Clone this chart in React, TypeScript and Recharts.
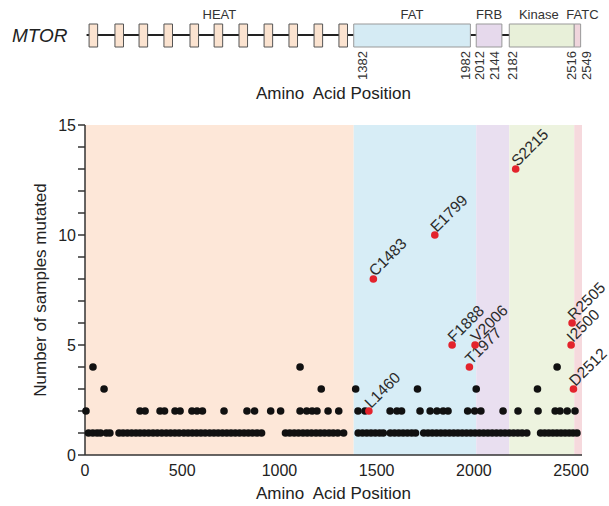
import { ScatterChart, Scatter, XAxis, YAxis, ReferenceArea, ReferenceLine } from "recharts";

// protein layout (amino acid positions)
const domainNames = ["HEAT", "FAT", "FRB", "Kinase", "FATC"];
const domainStarts = [0, 1382, 2012, 2182, 2516];
const domainEnds = [1382, 1982, 2144, 2516, 2549];
const heatRepeatStarts = [21, 154, 278, 406, 540, 664, 792, 921, 1049, 1178, 1306];
const heatRepeatLength = 44;
const boundaryLabels = [1382, 1982, 2012, 2144, 2182, 2516, 2549];

const xTicks = [0, 500, 1000, 1500, 2000, 2500];
const yTicks = [0, 1, 2, 3, 4, 5, 6, 7, 8, 9, 10, 11, 12, 13, 14, 15];

// positions mutated in 1, 2, 3 and 4 samples
const mutatedOnce = [
  18, 40, 62, 80, 110, 128, 175, 196, 218, 240, 262, 283, 305, 327, 350, 372, 395, 418, 440, 462,
  484, 508, 530, 552, 574, 596, 618, 641, 663, 685, 707, 729, 751, 773, 795, 818, 840, 862, 885, 908,
  1031, 1053, 1076, 1098, 1121, 1143, 1165, 1188, 1210, 1232, 1255, 1277, 1300, 1330,
  1405, 1427, 1449, 1471, 1493, 1515, 1534, 1570, 1592, 1614, 1636, 1658, 1680, 1700, 1742, 1764,
  1786, 1808, 1830, 1852, 1874, 1896, 1918, 1940, 1962, 1984, 2006, 2028, 2050, 2072, 2094, 2116,
  2138, 2160, 2182, 2204, 2226, 2248, 2272,
  2343, 2364, 2385, 2406, 2427, 2448, 2469, 2490, 2510, 2530,
];
const mutatedTwice = [
  5, 283, 309, 386, 409, 463, 489, 550, 576, 604, 715, 833, 872, 955, 1006, 1106, 1140, 1168, 1193,
  1250, 1305, 1404, 1440, 1569, 1604, 1628, 1723, 1775, 1810, 1842, 1867, 1968, 2004, 2036, 2150,
  2227, 2330, 2418, 2443, 2480, 2520,
];
const mutatedThrice = [98, 1215, 1392, 1710, 2012, 2327];
const mutatedFourTimes = [41, 1106, 2428];

// labelled hotspots
const hotspotNames = ["L1460", "C1483", "E1799", "F1888", "T1977", "V2006", "S2215", "I2500", "R2505", "D2512"];
const hotspotPositions = [1460, 1483, 1799, 1888, 1977, 2006, 2215, 2500, 2505, 2512];
const hotspotCounts = [2, 8, 10, 5, 4, 5, 13, 5, 6, 3];

const FONT = '"Liberation Sans", Arial, Helvetica, sans-serif';
const X_MAX = 2556;
const BACKBONE_Y = 15;
const bandFill: Record<string, string> = {
  HEAT: "#fde7d8",
  FAT: "#d7edf6",
  FRB: "#e9dff0",
  Kinase: "#edf3df",
  FATC: "#f6d9dd",
};
const boxFill: Record<string, string> = {
  HEAT: "#fbe3d0",
  FAT: "#d5ebf4",
  FRB: "#e6d9ec",
  Kinase: "#e8f0d9",
  FATC: "#efd5dc",
};
const nameShift: Record<string, number> = { Kinase: -3, FATC: 5 };
const boundaryShift: Record<number, number> = { 1382: 13, 1982: 0, 2012: 8, 2144: -3, 2182: 8, 2516: 2, 2549: 10 };

const blackPoints = [
  ...mutatedOnce.map((x) => ({ x, y: 1 })),
  ...mutatedTwice.map((x) => ({ x, y: 2 })),
  ...mutatedThrice.map((x) => ({ x, y: 3 })),
  ...mutatedFourTimes.map((x) => ({ x, y: 4 })),
];
const redPoints = hotspotNames.map((name, i) => ({ name, x: hotspotPositions[i], y: hotspotCounts[i] }));
// anchor points on the backbone so the header chart has data for its axes
const backbonePoints = boundaryLabels.map((x) => ({ x, y: BACKBONE_Y }));

const BoundaryTick = (props: any) => {
  const { x, payload } = props;
  const bx = x + (boundaryShift[payload.value] ?? 0);
  const by = 51;
  return (
    <text x={bx} y={by} transform={`rotate(-90 ${bx} ${by})`} textAnchor="end" fontSize={13} fill="#333">
      {payload.value}
    </text>
  );
};

const Empty = () => <g />;

const Dot = (props: any) => <circle cx={props.cx} cy={props.cy} r={3.8} fill="#111" />;

const Hotspot = (props: any) => {
  const { cx, cy, payload } = props;
  const tx = cx + 2;
  const ty = cy - 2;
  return (
    <g>
      <circle cx={cx} cy={cy} r={3.8} fill="#e3232c" />
      <text x={tx} y={ty} transform={`rotate(-45 ${tx} ${ty})`} fontSize={15.5} fill="#2b2b2b">
        {payload.name}
      </text>
    </g>
  );
};

const YTitle = (props: any) => {
  const vb = props.viewBox;
  const x = 46;
  const y = vb.y + vb.height / 2;
  return (
    <text x={x} y={y} transform={`rotate(-90 ${x} ${y})`} textAnchor="middle" fontSize={17} fill="#222">
      Number of samples mutated
    </text>
  );
};

export default function App() {
  return (
    <div style={{ position: "absolute", left: 0, top: 0, width: 609, height: 506, fontFamily: FONT, background: "#fff" }}>
      <div style={{ position: "absolute", left: 12, top: 25, fontSize: 19, fontStyle: "italic", color: "#222" }}>MTOR</div>
      <ScatterChart width={609} height={110} margin={{ top: 0, right: 27, bottom: 0, left: 85 }}>
        <XAxis
          type="number"
          dataKey="x"
          domain={[0, X_MAX]}
          ticks={boundaryLabels}
          interval={0}
          height={60}
          axisLine={false}
          tickLine={false}
          tick={<BoundaryTick />}
          label={{ value: "Amino\u00a0 Acid Position", position: "insideBottom", offset: 11, fontSize: 17, fill: "#222" }}
        />
        <YAxis type="number" dataKey="y" domain={[0, 50]} hide />
        <ReferenceLine
          segment={[{ x: 8, y: BACKBONE_Y }, { x: 2516, y: BACKBONE_Y }]}
          stroke="#222"
          strokeWidth={2}
          zIndex={10}
        />
        <ReferenceArea
          x1={domainStarts[0]}
          x2={domainEnds[0]}
          y1={3}
          y2={26}
          fill="none"
          stroke="none"
          zIndex={20}
          label={{ value: "HEAT", position: "top", offset: 5, fontSize: 13, fill: "#333" }}
        />
        {heatRepeatStarts.map((s) => (
          <ReferenceArea
            key={s}
            x1={s}
            x2={s + heatRepeatLength}
            y1={3}
            y2={26}
            fill={boxFill.HEAT}
            fillOpacity={1}
            stroke="#555"
            strokeWidth={1}
            zIndex={20}
          />
        ))}
        {domainNames.slice(1).map((name, i) => (
          <ReferenceArea
            key={name}
            x1={domainStarts[i + 1]}
            x2={domainEnds[i + 1]}
            y1={3}
            y2={26}
            fill={boxFill[name]}
            fillOpacity={1}
            stroke="#999"
            strokeWidth={1}
            zIndex={20}
            label={{ value: name, position: "top", offset: 5, fontSize: 13, fill: "#333", dx: nameShift[name] ?? 0 }}
          />
        ))}
        <Scatter data={backbonePoints} shape={<Empty />} isAnimationActive={false} />
      </ScatterChart>
      <ScatterChart width={609} height={396} margin={{ top: 15, right: 27, bottom: 0, left: 25 }}>
        {domainNames.map((name, i) => (
          <ReferenceArea
            key={name}
            x1={domainStarts[i]}
            x2={i + 1 < domainStarts.length ? domainStarts[i + 1] : X_MAX}
            y1={0}
            y2={15}
            fill={bandFill[name]}
            fillOpacity={1}
            stroke="none"
            zIndex={-50}
          />
        ))}
        <XAxis
          type="number"
          dataKey="x"
          domain={[0, X_MAX]}
          ticks={xTicks}
          interval={0}
          height={51}
          tickSize={6}
          tickMargin={4}
          tickLine={false}
          stroke="#333"
          strokeWidth={1.5}
          tick={{ fill: "#222", fontSize: 16 }}
          label={{ value: "Amino\u00a0 Acid Position", position: "insideBottom", offset: 7, fontSize: 17, fill: "#222" }}
        />
        <YAxis
          type="number"
          dataKey="y"
          domain={[0, 15]}
          ticks={yTicks}
          interval={0}
          width={60}
          tickSize={7}
          tickMargin={2}
          stroke="#333"
          strokeWidth={1.5}
          tick={{ fill: "#222", fontSize: 16 }}
          tickFormatter={(v: number) => (v % 5 === 0 ? String(v) : "")}
          label={{ content: <YTitle /> }}
        />
        <Scatter data={blackPoints} shape={<Dot />} isAnimationActive={false} />
        <Scatter data={redPoints} shape={<Hotspot />} isAnimationActive={false} />
      </ScatterChart>
    </div>
  );
}
